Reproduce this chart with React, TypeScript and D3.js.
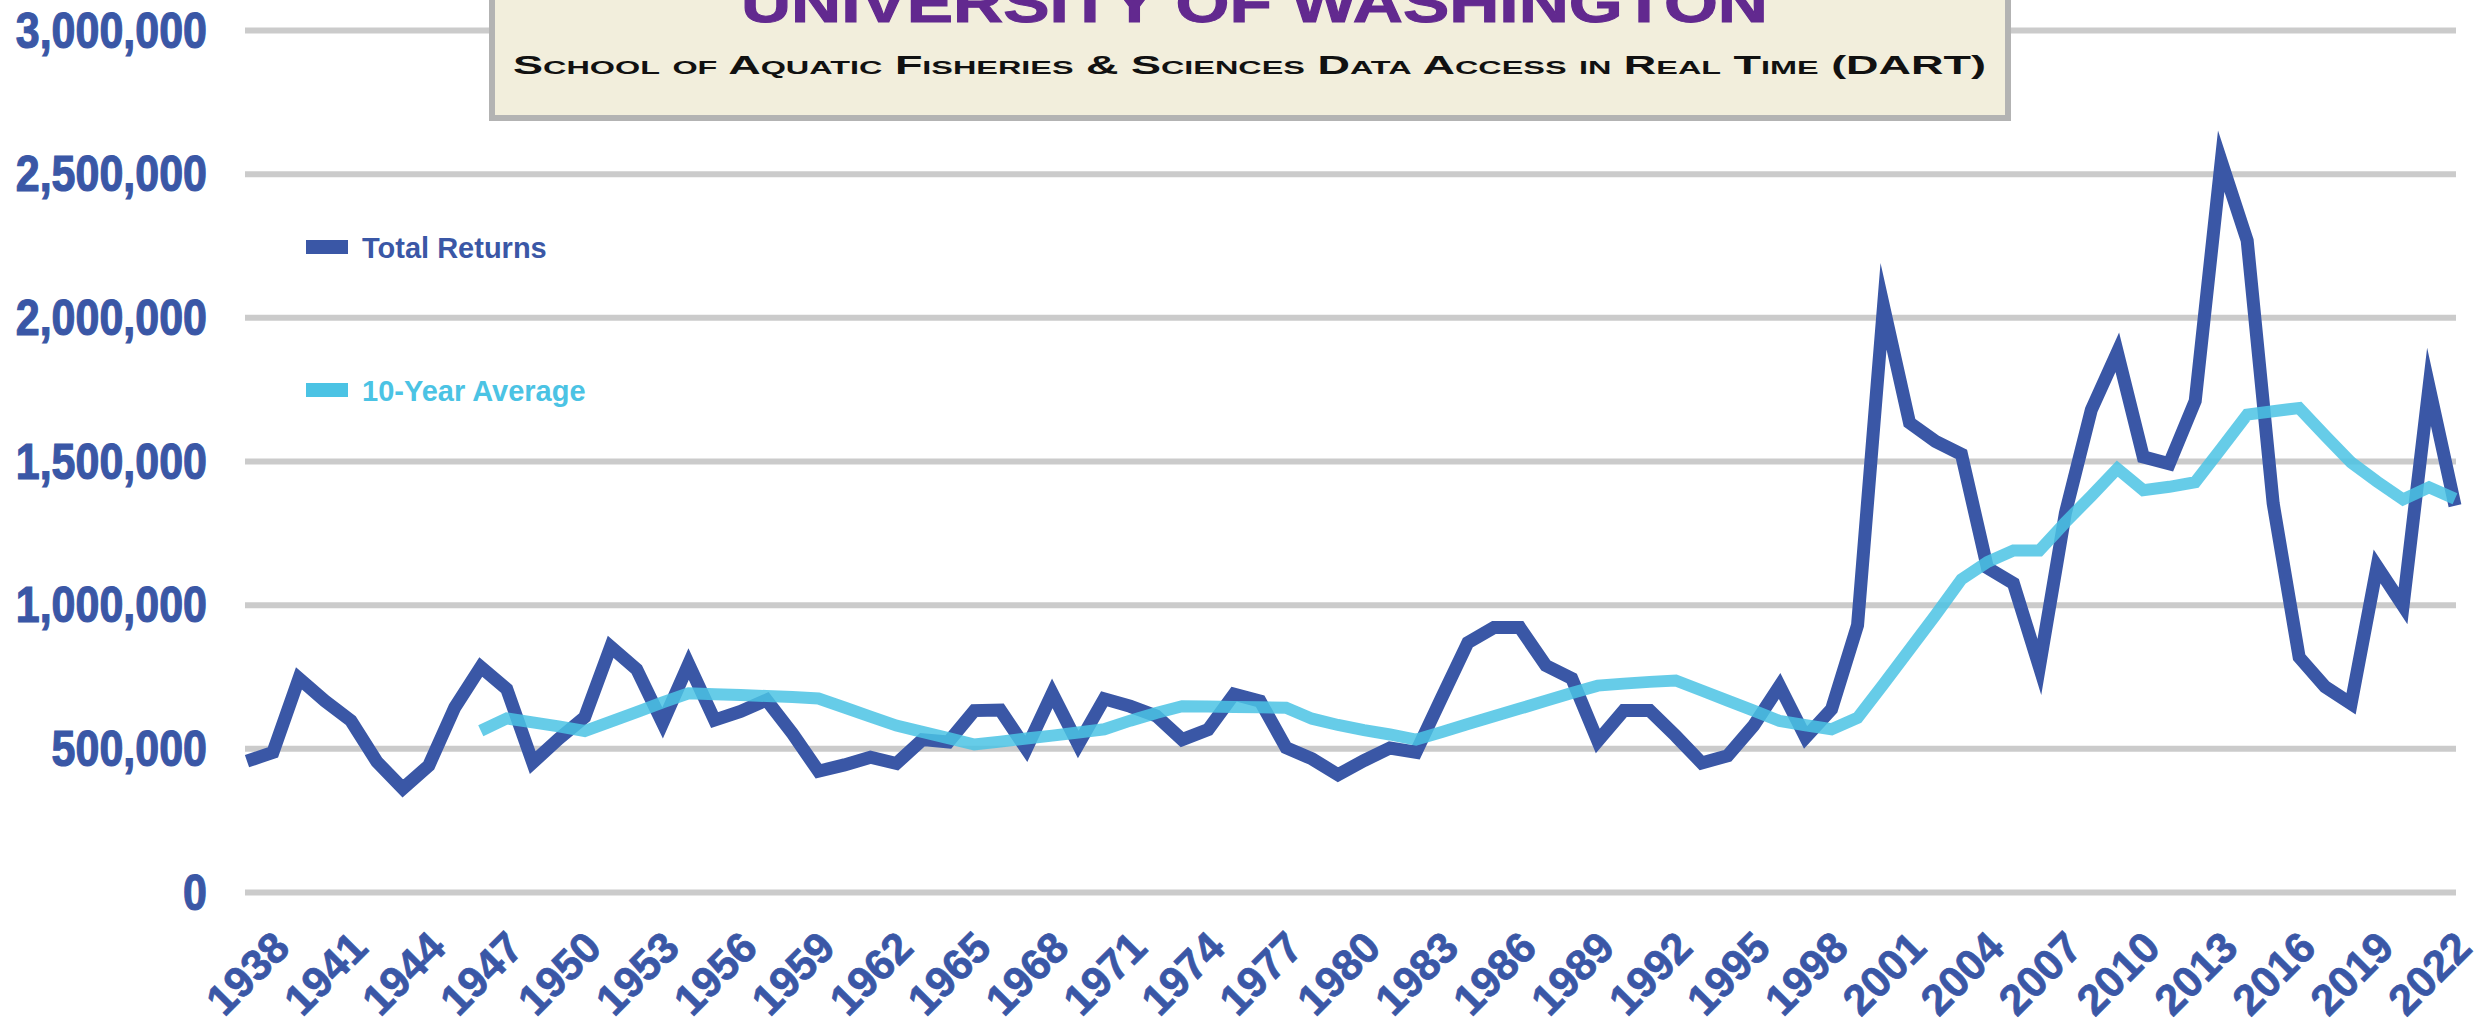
import React from "react";
import * as d3 from "d3";

const years: number[] = [
  1938, 1939, 1940, 1941, 1942, 1943, 1944, 1945, 1946, 1947,
  1948, 1949, 1950, 1951, 1952, 1953, 1954, 1955, 1956, 1957,
  1958, 1959, 1960, 1961, 1962, 1963, 1964, 1965, 1966, 1967,
  1968, 1969, 1970, 1971, 1972, 1973, 1974, 1975, 1976, 1977,
  1978, 1979, 1980, 1981, 1982, 1983, 1984, 1985, 1986, 1987,
  1988, 1989, 1990, 1991, 1992, 1993, 1994, 1995, 1996, 1997,
  1998, 1999, 2000, 2001, 2002, 2003, 2004, 2005, 2006, 2007,
  2008, 2009, 2010, 2011, 2012, 2013, 2014, 2015, 2016, 2017,
  2018, 2019, 2020, 2021, 2022, 2023,
];

const totalReturns: number[] = [
  457000, 488000, 745000, 667000, 598000, 455000, 362000, 442000, 644000, 785000,
  708000, 452000, 535000, 610000, 855000, 777000, 590000, 795000, 600000, 630000,
  670000, 553000, 422000, 444000, 471000, 449000, 532000, 524000, 633000, 635000,
  500000, 693000, 515000, 674000, 648000, 615000, 532000, 567000, 690000, 666000,
  504000, 465000, 410000, 459000, 503000, 488000, 680000, 870000, 922000, 922000,
  790000, 745000, 527000, 633000, 633000, 545000, 451000, 476000, 581000, 719000,
  540000, 638000, 930000, 2040000, 1635000, 1570000, 1525000, 1130000, 1076000, 785000,
  1320000, 1680000, 1880000, 1516000, 1492000, 1711000, 2545000, 2269000, 1354000, 819000,
  716000, 657000, 1135000, 998000, 1760000, 1346000,
];

// 10-year average: first value in 1947
const avgYears: number[] = [
  1947, 1948, 1949, 1950, 1951, 1952, 1953, 1954, 1955, 1956,
  1957, 1958, 1959, 1960, 1961, 1962, 1963, 1964, 1965, 1966,
  1967, 1968, 1969, 1970, 1971, 1972, 1973, 1974, 1975, 1976,
  1977, 1978, 1979, 1980, 1981, 1982, 1983, 1984, 1985, 1986,
  1987, 1988, 1989, 1990, 1991, 1992, 1993, 1994, 1995, 1996,
  1997, 1998, 1999, 2000, 2001, 2002, 2003, 2004, 2005, 2006,
  2007, 2008, 2009, 2010, 2011, 2012, 2013, 2014, 2015, 2016,
  2017, 2018, 2019, 2020, 2021, 2022, 2023,
];
const tenYearAverage: number[] = [
  563000, 606000, 592000, 578000, 562000, 595000, 628000, 662000, 693000, 690000,
  687000, 684000, 680000, 675000, 644000, 612000, 581000, 559000, 537000, 515000,
  525000, 536000, 546000, 557000, 568000, 598000, 625000, 648000, 647000, 646000,
  645000, 643000, 605000, 583000, 565000, 550000, 532000, 559000, 586000, 613000,
  640000, 667000, 694000, 720000, 727000, 733000, 738000, 703000, 668000, 633000,
  597000, 582000, 568000, 608000, 725000, 845000, 965000, 1090000, 1150000, 1190000,
  1190000, 1288000, 1380000, 1475000, 1400000, 1412000, 1428000, 1545000, 1663000, 1675000,
  1686000, 1590000, 1497000, 1430000, 1368000, 1410000, 1370000,
];

const yTicks: number[] = [0, 500000, 1000000, 1500000, 2000000, 2500000, 3000000];
const xLabelYears: number[] = [
  1938, 1941, 1944, 1947, 1950, 1953, 1956, 1959, 1962, 1965, 1968, 1971, 1974,
  1977, 1980, 1983, 1986, 1989, 1992, 1995, 1998, 2001, 2004, 2007, 2010, 2013,
  2016, 2019, 2022,
];

const titleText = "UNIVERSITY OF WASHINGTON";
const subtitleText = "School of Aquatic Fisheries & Sciences Data Access in Real Time (DART)";
const legendLabels: string[] = ["Total Returns", "10-Year Average"];

const W = 2484;
const H = 1018;
const DARK = "#3A57A6";
const LIGHT = "rgb(75,195,228)";
const GRID = "#CBCBCB";

export default function App() {
  const x = d3.scalePoint<number>().domain(years).range([247, 2455]);
  const y = d3.scaleLinear().domain([0, 3000000]).range([892.5, 30.5]);

  const fmt = d3.format(",");

  const totalLine = d3
    .line<number>()
    .x((_, i) => x(years[i]) as number)
    .y((d) => y(d));
  const avgLine = d3
    .line<number>()
    .x((_, i) => x(avgYears[i]) as number)
    .y((d) => y(d));

  const sans = "'Liberation Sans', Arial, Helvetica, sans-serif";

  return (
    <div style={{ position: "fixed", left: 0, top: 0, width: W, height: H, background: "#fff" }}>
      <svg width={W} height={H} viewBox={`0 0 ${W} ${H}`} style={{ display: "block" }}>
        <rect x={0} y={0} width={W} height={H} fill="#fff" />
        {/* gridlines */}
        {yTicks.map((t) => (
          <line key={t} x1={245} x2={2456} y1={y(t)} y2={y(t)} stroke={GRID} strokeWidth={6} />
        ))}
        {/* y labels */}
        {yTicks.map((t) => (
          <g key={"yl" + t} transform={`translate(207,${y(t) + 17}) scale(0.86,1)`}>
            <text
              x={0}
              y={0}
              textAnchor="end"
              fontFamily={sans}
              fontWeight="bold"
              fontSize={50}
              fill={DARK}
              stroke={DARK}
              strokeWidth={1.2}
            >
              {fmt(t)}
            </text>
          </g>
        ))}
        {/* x labels */}
        {xLabelYears.map((yr) => {
          const px = (x(yr) as number) + 45;
          const py = 950;
          return (
            <text
              key={"xl" + yr}
              x={px}
              y={py}
              transform={`rotate(-45 ${px} ${py})`}
              textAnchor="end"
              fontFamily={sans}
              fontWeight="bold"
              fontSize={43}
              fill={DARK}
              stroke={DARK}
              strokeWidth={0.8}
            >
              {yr}
            </text>
          );
        })}
        {/* series */}
        <path
          d={totalLine(totalReturns) || ""}
          fill="none"
          stroke={DARK}
          strokeWidth={13}
          strokeLinejoin="miter"
          strokeMiterlimit={10}
        />
        <path
          d={avgLine(tenYearAverage) || ""}
          fill="none"
          stroke={LIGHT}
          strokeOpacity={0.85}
          strokeWidth={12}
          strokeLinejoin="miter"
          strokeMiterlimit={10}
        />
        {/* legend */}
        <rect x={306} y={240} width={42} height={14} fill={DARK} />
        <text x={362} y={258} fontFamily={sans} fontWeight="bold" fontSize={29} fill={DARK}>
          {legendLabels[0]}
        </text>
        <rect x={306} y={383} width={42} height={14} fill={LIGHT} />
        <text x={362} y={401} fontFamily={sans} fontWeight="bold" fontSize={29} fill={LIGHT}>
          {legendLabels[1]}
        </text>
        {/* title box */}
        <rect x={492} y={-10} width={1516} height={128} fill="#F2EEDC" stroke="#B3B3B3" strokeWidth={6} />
        <text
          x={741}
          y={22}
          textLength={1027}
          lengthAdjust="spacingAndGlyphs"
          fontFamily={sans}
          fontWeight="bold"
          fontSize={56}
          fill="#62298F"
          stroke="#62298F"
          strokeWidth={1}
        >
          {titleText}
        </text>
        <text
          x={513}
          y={74}
          textLength={1473}
          lengthAdjust="spacingAndGlyphs"
          fontFamily={sans}
          fontWeight="bold"
          fontSize={25}
          fill="#111"
          style={{ fontVariant: "small-caps" }}
        >
          {subtitleText}
        </text>
      </svg>
    </div>
  );
}
